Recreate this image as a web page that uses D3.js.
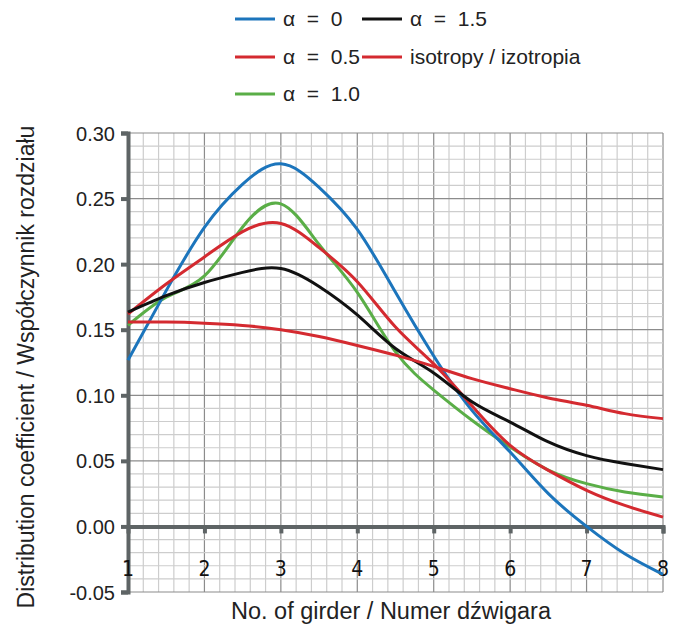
<!DOCTYPE html>
<html><head><meta charset="utf-8">
<script src="https://cdn.jsdelivr.net/npm/d3@7"></script>
<style>body{margin:0;background:#fff}svg{display:block}</style>
</head><body>
<svg id="c" width="679" height="629"></svg>
<script>
const girders = [1,1.5,2,2.5,3,3.5,4,4.5,5,5.5,6,6.5,7,7.5,8];
const alpha0   = [0.1268,0.1798,0.228,0.261,0.2765,0.2586,0.2265,0.1785,0.130,0.0885,0.0567,0.025,0.000,-0.0209,-0.0366];
const alpha05  = [0.162,0.1849,0.2055,0.2248,0.231,0.2126,0.1866,0.152,0.124,0.092,0.0618,0.0427,0.0275,0.016,0.0071];
const alpha10  = [0.1533,0.1748,0.191,0.2283,0.246,0.215,0.1785,0.1331,0.104,0.081,0.0605,0.043,0.0326,0.0262,0.0224];
const alpha15  = [0.1634,0.176,0.186,0.1937,0.1967,0.183,0.1613,0.1357,0.117,0.095,0.0796,0.0644,0.054,0.048,0.0433];
const isotropy = [0.1558,0.1558,0.155,0.1533,0.150,0.1448,0.138,0.1306,0.122,0.1127,0.105,0.098,0.0924,0.086,0.0822];
const yTicks = [0.30,0.25,0.20,0.15,0.10,0.05,0.00,-0.05];
const xTicks = [1,2,3,4,5,6,7,8];
const seriesNames = ["α = 0","α = 0.5","α = 1.0","α = 1.5","isotropy / izotropia"];

const colors = {"α = 0":"#1c75bc","α = 0.5":"#d42a30","α = 1.0":"#5aae47","α = 1.5":"#111111","isotropy / izotropia":"#d42a30"};
const data = {"α = 0":alpha0,"α = 0.5":alpha05,"α = 1.0":alpha10,"α = 1.5":alpha15,"isotropy / izotropia":isotropy};

const svg = d3.select("#c");
const x = d3.scaleLinear().domain([1,8]).range([128,663]);
const y = d3.scaleLinear().domain([-0.05,0.30]).range([592,133]);
const axisCol = "#5e6465";

// grid
const g = svg.append("g");
const minorX = d3.range(0,36).map(i=>1+i*0.2);
const minorY = d3.range(0,36).map(i=>-0.05+i*0.01);
g.selectAll(".mx").data(minorX).join("line")
  .attr("x1",d=>x(d)).attr("x2",d=>x(d)).attr("y1",y(0.30)).attr("y2",y(-0.05))
  .attr("stroke",(d,i)=>i%5===0?"#8c8c8c":"#cdcdcd").attr("stroke-width",1.2);
g.selectAll(".my").data(minorY).join("line")
  .attr("y1",d=>y(d)).attr("y2",d=>y(d)).attr("x1",x(1)).attr("x2",x(8))
  .attr("stroke",(d,i)=>i%5===0?"#8c8c8c":"#cdcdcd").attr("stroke-width",1.2);

// y axis
const fmt = d => d3.format(".2f")(d).replace("−","-");
const yAxis = d3.axisLeft(y).tickValues(yTicks).tickFormat(fmt).tickSize(7).tickPadding(6);
const ya = svg.append("g").attr("transform",`translate(${x(1)},0)`).call(yAxis);
ya.select(".domain").attr("stroke",axisCol).attr("stroke-width",4);
ya.selectAll(".tick line").attr("stroke",axisCol).attr("stroke-width",4);
ya.selectAll(".tick text").attr("font-family","Liberation Sans, Arial, sans-serif").attr("font-size",20).attr("fill","#222").attr("dy","0.35em");

// zero line with tick marks
const xAxis = d3.axisBottom(x).tickValues(xTicks).tickSize(7).tickFormat("");
const xa = svg.append("g").attr("transform",`translate(0,${y(0)})`).call(xAxis);
xa.select(".domain").attr("stroke",axisCol).attr("stroke-width",4);
xa.selectAll(".tick line").attr("stroke",axisCol).attr("stroke-width",4).filter(d=>d===1).remove();

// x tick labels
svg.append("g").selectAll("text").data(xTicks).join("text")
  .attr("x",d=>x(d)).attr("y",576).attr("text-anchor","middle")
  .attr("font-family","DejaVu Sans Condensed, DejaVu Sans, sans-serif").attr("font-stretch","condensed")
  .attr("font-size",21).attr("fill","#111").text(d=>d);

// lines
const line = d3.line().x((d,i)=>x(girders[i])).y(d=>y(d)).curve(d3.curveNatural);
const order = ["α = 1.0","α = 0","α = 0.5","α = 1.5","isotropy / izotropia"];
svg.append("g").selectAll("path").data(order).join("path")
  .attr("d",k=>line(data[k])).attr("fill","none").attr("stroke",k=>colors[k]).attr("stroke-width",3);

// axis titles
svg.append("text").attr("x",391).attr("y",619).attr("text-anchor","middle")
  .attr("font-family","Liberation Sans, Arial, sans-serif").attr("font-size",23.5).attr("fill","#222")
  .text("No. of girder / Numer dźwigara");
svg.append("text").attr("transform","translate(34,367) rotate(-90)").attr("text-anchor","middle")
  .attr("font-family","Liberation Sans, Arial, sans-serif").attr("font-size",23).attr("fill","#222")
  .text("Distribution coefficient / Współczynnik rozdziału");

// legend
const legendPos = [
  {k:"α = 0",x:235,y:19},{k:"α = 1.5",x:362,y:19},
  {k:"α = 0.5",x:235,y:57},{k:"isotropy / izotropia",x:362,y:57},
  {k:"α = 1.0",x:235,y:94}];
const lg = svg.append("g").selectAll("g").data(legendPos).join("g")
  .attr("transform",d=>`translate(${d.x},${d.y})`);
lg.append("line").attr("x1",0).attr("x2",40).attr("stroke",d=>colors[d.k]).attr("stroke-width",3);
lg.append("text").attr("x",48).attr("dy","0.35em")
  .attr("font-family","Liberation Sans, Arial, sans-serif").attr("font-size",21).attr("fill","#222")
  .attr("xml:space","preserve").style("white-space","pre").text(d=>d.k.replace(" = ","  =  "));
</script>
</body></html>
